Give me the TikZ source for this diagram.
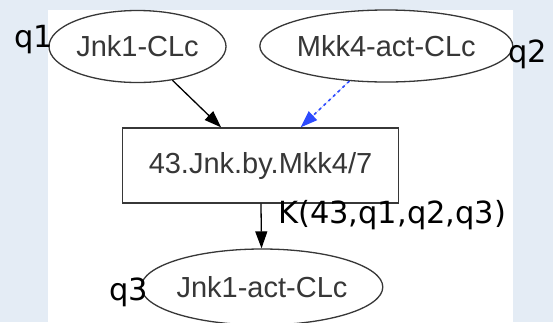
\documentclass[tikz,border=0pt]{standalone}
\usepackage{fontspec}
\usepackage{tikz}
\setmainfont{Liberation Sans}
\newfontfamily\handfont{DejaVu Sans}
\usetikzlibrary{shapes.geometric,arrows.meta}

\definecolor{marble}{RGB}{228,236,245}
\definecolor{dotblue}{RGB}{45,75,255}
\definecolor{nodegray}{RGB}{55,55,55}

\begin{document}
\begin{tikzpicture}[x=1pt, y=-1pt,
        species/.style={ellipse, draw=nodegray, line width=1.3pt, inner sep=0pt, text=nodegray, font=\fontsize{29}{31}\selectfont},
        reaction/.style={rectangle, draw=nodegray, line width=1.3pt, inner sep=0pt, text=nodegray, font=\fontsize{29}{31}\selectfont},
        flow/.style={-{Triangle[length=17pt, width=12pt]}, line width=1.3pt, draw=black},
        modifier/.style={-{Triangle[length=17pt, width=12pt]}, line width=1.6pt, draw=dotblue, fill=dotblue, dash pattern=on 3pt off 3.5pt},
        qlabel/.style={inner sep=0pt, font=\handfont\fontsize{30.5}{32}\selectfont}]

        % Фон и белое поле
        \fill[marble] (0,0) rectangle (553,322);
        \fill[white] (48,10) rectangle (513,322);
        \useasboundingbox (0,0) rectangle (553,322);

        % Вещества
        \node[species, minimum width=177pt, minimum height=72pt] (jnk) at (137.5,46.5) {Jnk1-CLc};
        \node[species, minimum width=251pt, minimum height=72pt] (mkk) at (386.3,46) {Mkk4-act-CLc};
        \node[species, minimum width=226pt, minimum height=76pt] (act) at (262,287) {Jnk1-act-CLc};

        % Реакция
        \node[reaction, minimum width=276pt, minimum height=75pt] (rxn) at (260.5,165.5) {43.Jnk.by.Mkk4/7};

        % Рёбра
        \draw[flow] (jnk) -- (rxn);
        \draw[modifier] (mkk) -- (rxn);
        \draw[flow] (rxn) -- (act);

        % Подписи
        \node[qlabel, anchor=base east] (q1) at (53,47) {q1};
        \node[qlabel, anchor=base west] (q2) at (508,62) {q2};
        \node[qlabel, anchor=base east] (q3) at (148,300) {q3};
        \node[qlabel, anchor=base west] (rate) at (278,223) {K(43,q1,q2,q3)};

    \end{tikzpicture}
\end{document}
